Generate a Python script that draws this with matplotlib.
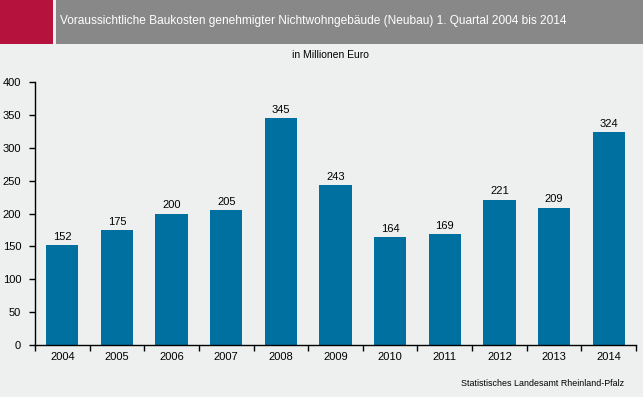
import numpy as np
import matplotlib as mpl
mpl.use('Agg')
import matplotlib.pyplot as plt
from matplotlib.patches import Rectangle

plt.rcParams['font.family'] = ['Liberation Sans', 'DejaVu Sans']

years = ['2004', '2005', '2006', '2007', '2008', '2009', '2010', '2011', '2012', '2013', '2014']
values = [152, 175, 200, 205, 345, 243, 164, 169, 221, 209, 324]
yticks = [0, 50, 100, 150, 200, 250, 300, 350, 400]

bg = '#eeefef'
bar_col = '#0070a0'

fig = plt.figure(figsize=(6.43, 3.97), dpi=100)
fig.patch.set_facecolor(bg)

# header blocks
fig.patches.append(Rectangle((0, 1 - 44/397), 53/643, 44/397, transform=fig.transFigure,
                             facecolor='#b5123e', edgecolor='none'))
fig.patches.append(Rectangle((56/643, 1 - 44/397), 1, 44/397, transform=fig.transFigure,
                             facecolor='#888888', edgecolor='none'))
fig.text(60/643, 1 - 21/397, 'Voraussichtliche Baukosten genehmigter Nichtwohngebäude (Neubau) 1. Quartal 2004 bis 2014',
         color='white', fontsize=8.6, va='center', ha='left')
fig.text(330/643, 1 - 55/397, 'in Millionen Euro', fontsize=7.5, ha='center', va='center')
fig.text(624/643, 1 - 383/397, 'Statistisches Landesamt Rheinland-Pfalz', fontsize=6.4, ha='right', va='center')

ax = fig.add_axes([35/643, 1 - 345/397, (636 - 35)/643, (345 - 82)/397])
ax.set_facecolor(bg)
x = np.arange(len(years))
bars = ax.bar(x, values, width=0.59, color=bar_col)
for xi, v in zip(x, values):
    ax.text(xi, v + 5, str(v), ha='center', va='bottom', fontsize=8)

ax.set_xlim(-0.5, len(years) - 0.5)
ax.set_ylim(0, 400)
ax.set_yticks(yticks)
ax.set_xticks(x)
ax.set_xticklabels(years)
ax.set_xticks(np.arange(-0.5, len(years)), minor=True)
ax.tick_params(axis='x', which='major', length=0, labelsize=8, pad=5)
ax.tick_params(axis='x', which='minor', length=4, width=1, direction='out')
ax.tick_params(axis='y', length=4, width=1, labelsize=8, pad=6)
for s in ['top', 'right']:
    ax.spines[s].set_visible(False)
ax.spines['left'].set_linewidth(1)
ax.spines['bottom'].set_linewidth(1)

fig.savefig('out.png', dpi=100, facecolor=bg)
